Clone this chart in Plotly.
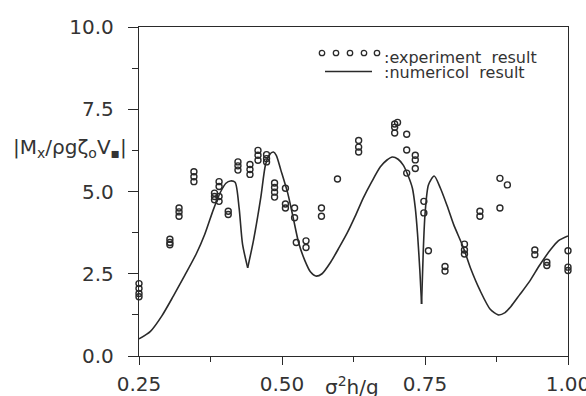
import plotly.graph_objects as go

# ---- data ----
line_x = [0.25, 0.27, 0.29, 0.31, 0.33, 0.35, 0.365, 0.38, 0.393, 0.402, 0.41, 0.418,
          0.425, 0.431, 0.44,
          0.45, 0.463, 0.471, 0.478, 0.485, 0.49, 0.498, 0.51, 0.519, 0.529, 0.54, 0.55,
          0.559, 0.57, 0.585, 0.60, 0.614, 0.628, 0.642, 0.657, 0.672, 0.683, 0.693, 0.703,
          0.712, 0.72, 0.728, 0.733, 0.737, 0.741, 0.744,
          0.747, 0.75, 0.756, 0.766, 0.777, 0.789, 0.80, 0.817, 0.83, 0.846, 0.864, 0.878,
          0.89, 0.90, 0.915, 0.934, 0.95, 0.969, 0.983, 1.0]
line_y = [0.52, 0.75, 1.22, 1.82, 2.45, 3.1, 3.7, 4.45, 5.0, 5.25, 5.32, 5.28,
          4.5, 3.4, 2.68,
          3.5, 4.83, 5.8, 6.12, 6.2, 6.1, 5.65, 4.95, 4.25, 3.45, 2.9, 2.55,
          2.43, 2.5, 2.85, 3.3, 3.74, 4.25, 4.8, 5.3, 5.75, 5.95, 6.05, 5.98,
          5.8, 5.5, 5.1, 4.5, 3.7, 2.6, 1.58,
          3.2, 4.3, 5.2, 5.47, 5.1, 4.55, 4.0, 3.3, 2.65, 2.0, 1.42, 1.25,
          1.32, 1.5, 1.85, 2.3, 2.75, 3.22, 3.5, 3.65]
cusp_x = [0.44, 0.744]

exp_x = [0.25, 0.25, 0.25, 0.25,
         0.304, 0.304, 0.304,
         0.32, 0.32, 0.32,
         0.346, 0.346, 0.346,
         0.382, 0.382, 0.382,
         0.39, 0.39, 0.39, 0.39,
         0.406, 0.406,
         0.423, 0.423, 0.423,
         0.444, 0.444, 0.444,
         0.458, 0.458, 0.458,
         0.473, 0.473, 0.473,
         0.487, 0.487, 0.487, 0.487,
         0.506, 0.506, 0.506,
         0.522, 0.522,
         0.525,
         0.542, 0.542,
         0.569, 0.569,
         0.597,
         0.634, 0.634, 0.634,
         0.697, 0.697, 0.697,
         0.702,
         0.718, 0.718, 0.718,
         0.733, 0.733, 0.733,
         0.748, 0.748,
         0.756,
         0.785, 0.785,
         0.819, 0.819, 0.819,
         0.846, 0.846,
         0.881, 0.881,
         0.894,
         0.942, 0.942,
         0.963, 0.963,
         1.0, 1.0, 1.0]
exp_y = [2.2, 2.05, 1.9, 1.8,
         3.55, 3.45, 3.38,
         4.5, 4.38, 4.25,
         5.6, 5.45, 5.3,
         4.95, 4.85, 4.75,
         5.3, 5.15, 4.85, 4.7,
         4.4, 4.3,
         5.9, 5.78, 5.65,
         5.82, 5.67, 5.52,
         6.25, 6.1, 5.95,
         6.12, 6.0, 5.9,
         5.26, 5.12, 4.98, 4.83,
         5.1, 4.62, 4.5,
         4.5, 4.2,
         3.45,
         3.5, 3.3,
         4.5, 4.25,
         5.38,
         6.55, 6.35, 6.2,
         7.05, 6.95, 6.78,
         7.1,
         6.74, 6.26, 5.56,
         6.1, 5.96, 5.7,
         4.7, 4.35,
         3.2,
         2.72, 2.58,
         3.4, 3.22, 3.1,
         4.4, 4.25,
         5.4, 4.5,
         5.2,
         3.22, 3.08,
         2.85, 2.75,
         3.2, 2.7, 2.6]

x_ticks = [0.25, 0.50, 0.75, 1.00]
x_ticktext = ["0.25", "0.50", "0.75", "1.00"]
x_minor = [0.375, 0.625, 0.875]
y_ticks = [0.0, 2.5, 5.0, 7.5, 10.0]
y_ticktext = ["0.0", "2.5", "5.0", "7.5", "10.0"]
y_minor = [1.25, 3.75, 6.25, 8.75]

legend_lines = [":experiment  result", ":numericol  result"]
y_label = "|M<sub>x</sub>/ρgζ<sub>o</sub>V<sub>▪</sub>|"
x_label = "σ<sup>2</sup>h/g"

INK = "#2a2a2a"
FONT = "DejaVu Sans"

fig = go.Figure()

# numerical line, split at the cusps so spline smoothing keeps them sharp
bounds = [0] + [line_x.index(c) for c in cusp_x] + [len(line_x) - 1]
for a, b in zip(bounds[:-1], bounds[1:]):
    fig.add_trace(go.Scatter(
        x=line_x[a:b + 1], y=line_y[a:b + 1], mode="lines",
        line=dict(color=INK, width=1.6, shape="spline", smoothing=0.7),
        showlegend=False, hoverinfo="skip", cliponaxis=False))

fig.add_trace(go.Scatter(
    x=exp_x, y=exp_y, mode="markers",
    marker=dict(symbol="circle-open", size=6, color=INK, line=dict(width=1.4, color=INK)),
    showlegend=False, cliponaxis=False))

# axes
axis_common = dict(showgrid=False, zeroline=False, showline=True, linecolor=INK,
                   linewidth=1.4, mirror=True, ticks="outside", tickcolor=INK,
                   tickwidth=1.4, automargin=False, ticklabeloverflow="allow",
                   tickfont=dict(family=FONT, size=20, color="#333"))
fig.update_xaxes(range=[0.25, 1.0], tickvals=x_ticks, ticktext=x_ticktext, ticklen=8,
                 ticklabelstandoff=2,
                 minor=dict(tickvals=x_minor, ticks="outside", ticklen=5,
                            tickcolor=INK, tickwidth=1.4),
                 **axis_common)
fig.update_yaxes(range=[0, 10], tickvals=y_ticks, ticktext=y_ticktext, ticklen=10,
                 ticklabelstandoff=10,
                 minor=dict(tickvals=y_minor, ticks="outside", ticklen=6,
                            tickcolor=INK, tickwidth=1.4),
                 **axis_common)

L, R, T, B = 139, 18, 27, 40
W, H = 586, 396
pw, ph = W - L - R, H - T - B

def px(xp):
    return (xp - L) / pw

def py(yp):
    return (H - B - yp) / ph

shapes = []
# legend: five small open circles and a short line sample
for cx in [322, 336, 350, 364, 377]:
    shapes.append(dict(type="circle", xref="paper", yref="paper",
                       xsizemode="pixel", ysizemode="pixel",
                       xanchor=px(cx), yanchor=py(53),
                       x0=-2.7, x1=2.7, y0=-2.7, y1=2.7,
                       line=dict(color=INK, width=1.3)))
shapes.append(dict(type="line", xref="paper", yref="paper",
                   x0=px(325), x1=px(372), y0=py(71.5), y1=py(71.5),
                   line=dict(color=INK, width=1.5)))

# two legend rows in one text block; the small base font sets a tight line spacing
legend_text = "<br>".join('<span style="font-size:16px">%s</span>' % t for t in legend_lines)

annotations = [
    dict(text=legend_text, xref="paper", yref="paper", x=px(382), y=py(64.5),
         xanchor="left", yanchor="middle", align="left", showarrow=False,
         font=dict(family=FONT, size=11.5, color="#333")),
    dict(text=y_label, xref="paper", yref="y", x=px(129), y=6.32,
         xanchor="right", yanchor="middle", showarrow=False,
         font=dict(family=FONT, size=20, color="#333")),
    dict(text=x_label, xref="paper", yref="paper", x=px(352), y=py(386),
         xanchor="center", yanchor="middle", showarrow=False,
         font=dict(family=FONT, size=20, color="#333")),
]

fig.update_layout(width=W, height=H, margin=dict(l=L, r=R, t=T, b=B),
                  paper_bgcolor="white", plot_bgcolor="white",
                  shapes=shapes, annotations=annotations, showlegend=False)

fig.write_html("out.html", config={"displayModeBar": False},
               post_script="document.body.style.margin='0';"
                           "document.body.style.overflow='hidden';")
